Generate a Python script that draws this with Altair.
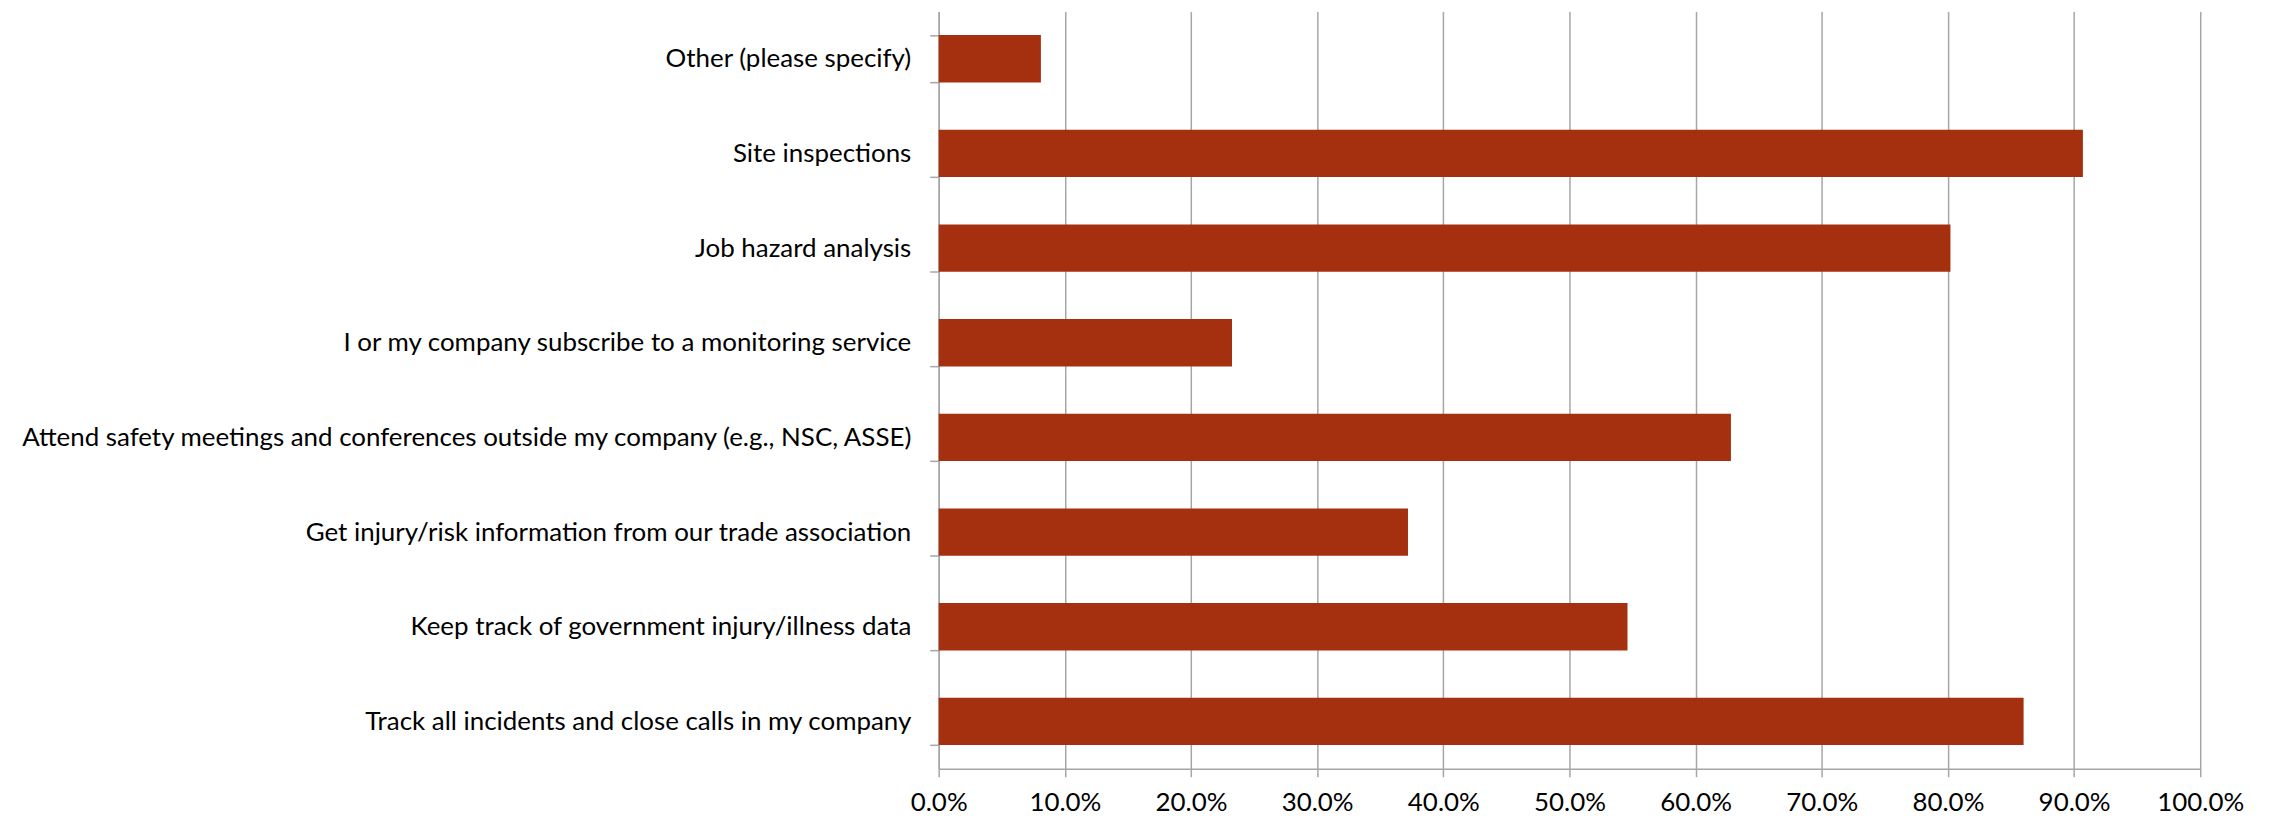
import altair as alt
import pandas as pd

categories = [
    "Other (please specify)",
    "Site inspections",
    "Job hazard analysis",
    "I or my company subscribe to a monitoring service",
    "Attend safety meetings and conferences outside my company (e.g., NSC, ASSE)",
    "Get injury/risk information from our trade association",
    "Keep track of government injury/illness data",
    "Track all incidents and close calls in my company",
]
values = [0.081, 0.907, 0.802, 0.2325, 0.628, 0.372, 0.546, 0.860]
tick_values = [0.0, 0.1, 0.2, 0.3, 0.4, 0.5, 0.6, 0.7, 0.8, 0.9, 1.0]

df = pd.DataFrame({"category": categories, "value": values})

FONT = "Lato"
GRID = "#a6a6a6"

chart = alt.Chart(df).mark_bar(color="#A5300F").encode(
    x=alt.X(
        "value:Q",
        scale=alt.Scale(domain=[0, 1], nice=False, zero=True),
        axis=alt.Axis(
            title=None,
            format=".1%",
            values=tick_values,
            grid=True,
            gridColor=GRID,
            gridWidth=1.5,
            domainColor=GRID,
            domainWidth=1.5,
            tickColor=GRID,
            tickWidth=1.5,
            tickSize=8,
            labelFont=FONT,
            labelFontSize=26,
            labelColor="#000000",
            labelPadding=13,
            labelFlush=False,
        ),
    ),
    y=alt.Y(
        "category:N",
        sort=categories,
        scale=alt.Scale(paddingInner=0.5, paddingOuter=0.25),
        axis=alt.Axis(
            title=None,
            tickBand="extent",
            grid=False,
            domainColor=GRID,
            domainWidth=1.5,
            tickColor=GRID,
            tickWidth=1.5,
            tickSize=9,
            labelFont=FONT,
            labelFontSize=26,
            labelColor="#000000",
            labelPadding=19,
            labelLimit=1000,
        ),
    ),
).properties(
    width=1266,
    height=760,
    padding={"left": 934, "top": 2, "right": 64, "bottom": 48},
    autosize=alt.AutoSizeParams(type="none"),
).configure_view(stroke=None)

chart.save("out.html", embed_options={"renderer": "svg", "actions": False})
